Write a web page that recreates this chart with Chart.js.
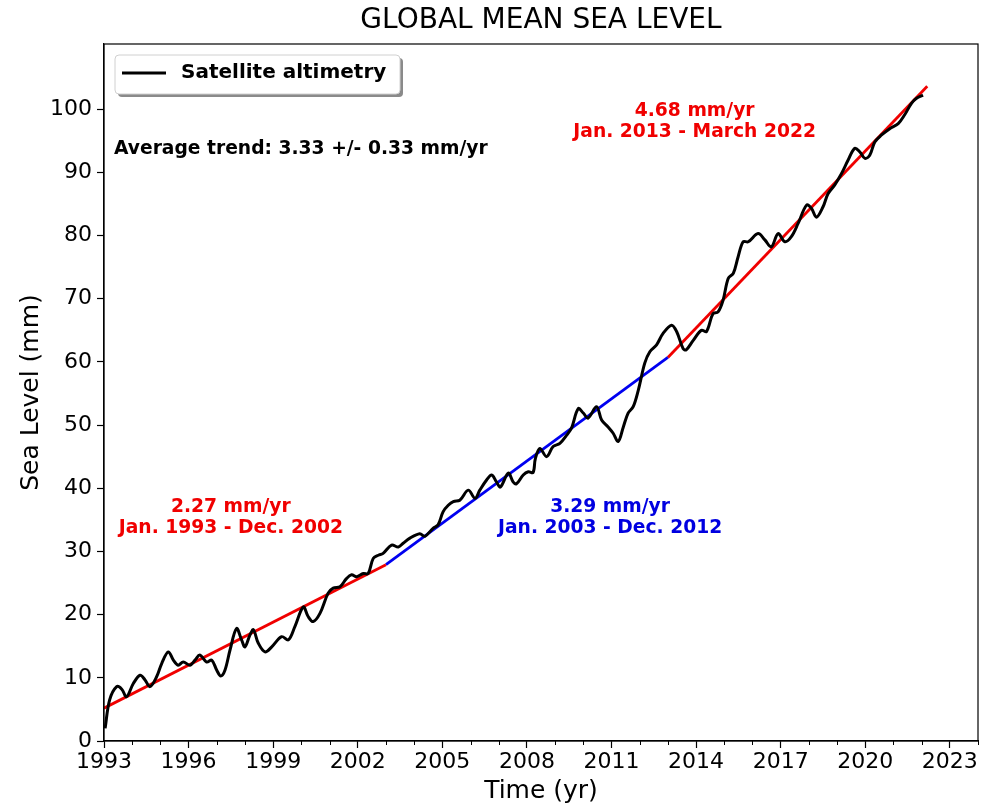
<!DOCTYPE html>
<html>
<head>
<meta charset="utf-8">
<script src="https://cdn.jsdelivr.net/npm/chart.js@4.4.1/dist/chart.umd.min.js"></script>
<style>
html,body{margin:0;padding:0;background:#fff;}
canvas{display:block;}
</style>
</head>
<body>
<canvas id="c" width="996" height="806"></canvas>
<script>
// ---- data ----
const years = [1993.04,1993.2,1993.45,1993.63,1993.8,1994.04,1994.28,1994.45,1994.63,1994.87,
1995.05,1995.28,1995.46,1995.63,1995.81,1996.05,1996.23,1996.4,1996.64,1996.82,
1997.0,1997.14,1997.29,1997.47,1997.7,1997.88,1998.0,1998.18,1998.3,1998.47,
1998.71,1998.95,1999.3,1999.54,1999.77,2000.07,2000.24,2000.42,2000.66,2000.95,
2001.13,2001.37,2001.6,2001.78,2001.96,2002.2,2002.37,2002.55,2002.73,2002.9,
2003.2,2003.44,2003.61,2003.85,2004.2,2004.38,2004.68,2004.85,2005.03,2005.21,
2005.39,2005.62,2005.92,2006.16,2006.33,2006.57,2006.75,2006.92,2007.06,2007.34,
2007.51,2007.63,2007.87,2008.05,2008.22,2008.3,2008.46,2008.7,2008.93,2009.17,
2009.41,2009.58,2009.82,2010.0,2010.17,2010.47,2010.65,2010.88,2011.06,2011.24,
2011.42,2011.59,2011.77,2011.95,2012.18,2012.36,2012.6,2012.83,2013.13,2013.31,
2013.54,2013.65,2013.9,2014.19,2014.37,2014.6,2014.78,2014.96,2015.14,2015.32,
2015.49,2015.67,2015.85,2016.2,2016.44,2016.67,2016.91,2017.15,2017.38,2017.62,
2017.92,2018.09,2018.27,2018.5,2018.68,2018.92,2019.16,2019.39,2019.63,2019.81,
2019.99,2020.16,2020.34,2020.58,2020.87,2021.17,2021.4,2021.64,2021.82,2022.05];
const seaLevel = [2.0,6.5,8.6,8.2,7.0,9.1,10.4,9.7,8.6,10.2,
12.3,14.1,12.8,12.0,12.5,12.0,12.8,13.6,12.5,12.8,
11.2,10.3,11.2,14.4,17.8,16.0,14.9,16.8,17.6,15.5,
14.1,14.9,16.5,16.0,18.1,21.2,19.7,18.9,20.2,23.4,
24.2,24.4,25.7,26.3,26.0,26.5,26.5,28.9,29.4,29.7,
31.0,30.7,31.3,32.1,32.8,32.4,33.7,34.2,36.3,37.3,
37.9,38.1,39.7,38.4,39.7,41.3,42.1,41.0,40.2,42.4,
41.0,40.7,42.1,42.6,42.5,44.7,46.3,45.0,46.6,47.1,
48.4,49.5,52.6,51.9,51.1,52.9,50.8,49.7,48.7,47.4,
49.7,51.9,52.9,55.5,59.8,61.6,62.7,64.5,65.8,64.8,
62.1,61.9,63.4,65.0,64.8,67.6,67.9,69.8,73.2,74.0,
76.6,79.0,79.0,80.3,79.3,78.2,80.3,79.0,79.8,81.9,
84.8,84.3,82.9,84.5,86.6,88.0,89.8,91.9,93.8,93.2,
92.2,92.7,94.8,95.9,96.9,97.7,99.1,100.9,101.7,102.2];

// trend segments (endpoints)
const trend1Years = [1993.0, 2003.0];
const trend1Values = [5.2, 27.9];
const trend2Years = [2003.0, 2013.0];
const trend2Values = [27.9, 60.7];
const trend3Years = [2013.0, 2022.2];
const trend3Values = [60.7, 103.6];

const xTickYears = [1993,1994,1995,1996,1997,1998,1999,2000,2001,2002,2003,2004,2005,2006,2007,2008,2009,2010,2011,2012,2013,2014,2015,2016,2017,2018,2019,2020,2021,2022,2023,2024];
const xMajorLabels = [1993,1996,1999,2002,2005,2008,2011,2014,2017,2020,2023];
const yTicks = [0,10,20,30,40,50,60,70,80,90,100];

const chartTitle = 'GLOBAL MEAN SEA LEVEL';
const legendLabel = 'Satellite altimetry';
const avgTrendText = 'Average trend: 3.33 +/- 0.33 mm/yr';
const annotations = [
  {x:1997.5, y:37.0, lines:['2.27 mm/yr','Jan. 1993 - Dec. 2002'], color:'#f00000'},
  {x:2010.95, y:37.0, lines:['3.29 mm/yr','Jan. 2003 - Dec. 2012'], color:'#0000e0'},
  {x:2013.95, y:99.7, lines:['4.68 mm/yr','Jan. 2013 - March 2022'], color:'#f00000'}
];

const FONT = '"DejaVu Sans", sans-serif';
const toXY = (xs, ys) => xs.map((x,i)=>({x:x, y:ys[i]}));

const decor = {
  id:'decor',
  afterDraw(chart){
    const ctx = chart.ctx, a = chart.chartArea;
    const xs = chart.scales.x, ys = chart.scales.y;
    ctx.save();
    // frame
    ctx.strokeStyle = '#000'; ctx.lineWidth = 1.2;
    ctx.strokeRect(a.left, a.top, a.right-a.left, a.bottom-a.top);
    // minor x ticks
    ctx.beginPath();
    xTickYears.forEach(v=>{
      if (xMajorLabels.indexOf(v) < 0) {
        const px = Math.round(xs.getPixelForValue(v))+0.5;
        ctx.moveTo(px, a.bottom); ctx.lineTo(px, a.bottom+4);
      }
    });
    ctx.lineWidth = 1; ctx.stroke();
    // title
    ctx.fillStyle = '#000';
    ctx.font = '28px ' + FONT;
    ctx.textAlign = 'center'; ctx.textBaseline = 'middle';
    ctx.fillText(chartTitle, (a.left+a.right)/2, 21);
    // annotations
    ctx.font = 'bold 18.7px ' + FONT;
    annotations.forEach(an=>{
      const cx = xs.getPixelForValue(an.x), cy = ys.getPixelForValue(an.y);
      ctx.fillStyle = an.color;
      an.lines.forEach((t,i)=> ctx.fillText(t, cx, cy + i*21));
    });
    // average trend
    ctx.fillStyle = '#000'; ctx.textAlign = 'left';
    ctx.fillText(avgTrendText, a.left+10, 149);
    // legend box
    const bx = a.left+11, by = 55, bw = 285, bh = 39, r = 4;
    const rr = (x,y,w,h)=>{ ctx.beginPath(); ctx.moveTo(x+r,y); ctx.lineTo(x+w-r,y); ctx.quadraticCurveTo(x+w,y,x+w,y+r);
      ctx.lineTo(x+w,y+h-r); ctx.quadraticCurveTo(x+w,y+h,x+w-r,y+h); ctx.lineTo(x+r,y+h); ctx.quadraticCurveTo(x,y+h,x,y+h-r);
      ctx.lineTo(x,y+r); ctx.quadraticCurveTo(x,y,x+r,y); ctx.closePath(); };
    rr(bx+3, by+3, bw, bh); ctx.fillStyle = '#8a8a8a'; ctx.fill();
    rr(bx, by, bw, bh); ctx.fillStyle = '#fff'; ctx.fill();
    ctx.strokeStyle = '#d0d0d0'; ctx.lineWidth = 1; ctx.stroke();
    ctx.beginPath(); ctx.moveTo(bx+7, by+18); ctx.lineTo(bx+51, by+18);
    ctx.strokeStyle = '#000'; ctx.lineWidth = 3; ctx.stroke();
    ctx.fillStyle = '#000'; ctx.font = 'bold 20px ' + FONT; ctx.textBaseline = 'middle';
    ctx.fillText(legendLabel, bx+66, by+18);
    ctx.restore();
  }
};

new Chart(document.getElementById('c'), {
  type:'line',
  data:{
    datasets:[
      {label:legendLabel, data:toXY(years, seaLevel), borderColor:'#000', borderWidth:3, pointRadius:0, tension:0.35, fill:false},
      {label:'trend1', data:toXY(trend1Years, trend1Values), borderColor:'#f00000', borderWidth:2.8, pointRadius:0, fill:false},
      {label:'trend2', data:toXY(trend2Years, trend2Values), borderColor:'#0000f0', borderWidth:2.8, pointRadius:0, fill:false},
      {label:'trend3', data:toXY(trend3Years, trend3Values), borderColor:'#f00000', borderWidth:2.8, pointRadius:0, fill:false}
    ]
  },
  options:{
    responsive:false, animation:false, devicePixelRatio:1,
    layout:{padding:{top:44, right:18, left:0, bottom:0}},
    plugins:{legend:{display:false}, tooltip:{enabled:false}, title:{display:false}},
    scales:{
      x:{
        type:'linear', min:1993, max:2024,
        afterBuildTicks(s){ s.ticks = xTickYears.map(v=>({value:v})); },
        afterFit(s){ s.height = 65; },
        ticks:{autoSkip:false, maxRotation:0, color:'#000', font:{family:FONT, size:22}, padding:1,
          callback:(v)=> xMajorLabels.indexOf(v) >= 0 ? String(v) : ''},
        grid:{drawOnChartArea:false, drawTicks:true, tickLength:7, tickWidth:1.2,
          tickColor:(c)=> (c.tick && xMajorLabels.indexOf(c.tick.value) >= 0) ? '#000' : 'rgba(0,0,0,0)'},
        border:{display:true, color:'#000', width:1.2},
        title:{display:true, text:'Time (yr)', color:'#000', font:{family:FONT, size:25}, padding:{top:0,bottom:0}}
      },
      y:{
        min:0, max:110.3,
        afterBuildTicks(s){ s.ticks = yTicks.map(v=>({value:v})); },
        afterFit(s){ s.width = 104; },
        ticks:{autoSkip:false, color:'#000', font:{family:FONT, size:22}, padding:5},
        grid:{drawOnChartArea:false, drawTicks:true, tickLength:7, tickWidth:1.2, tickColor:'#000'},
        border:{display:true, color:'#000', width:1.2},
        title:{display:true, text:'Sea Level (mm)', color:'#000', font:{family:FONT, size:25}, padding:{top:16,bottom:0}}
      }
    }
  },
  plugins:[decor]
});
</script>
</body>
</html>
